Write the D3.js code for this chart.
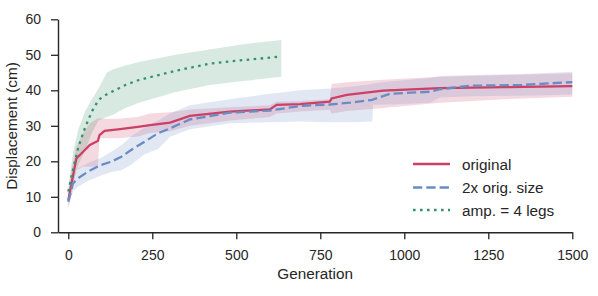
<!DOCTYPE html>
<html><head><meta charset="utf-8">
<script src="https://cdn.jsdelivr.net/npm/d3@7"></script>
<style>body{margin:0;background:#fff}svg{display:block;font-family:"Liberation Sans",Arial,sans-serif}</style>
</head><body><svg id="c" width="598" height="296"></svg>
<script>
const seriesNames = ["original", "2x orig. size", "amp. = 4 legs"];
const seriesColors = ["#cc3f66", "#6a8cc4", "#35936b"];

const genOriginal  = [0, 10, 24, 44, 64, 88, 93, 108, 148, 207, 243, 303, 362, 481, 600, 620, 690, 778, 784, 829, 937, 1106, 1300, 1500];
const meanOriginal = [9, 14, 20.8, 22.7, 24.6, 25.7, 27.4, 28.6, 29, 29.7, 30.2, 30.9, 32.8, 34, 34.6, 35.9, 36.1, 36.8, 37.7, 38.7, 39.9, 40.6, 40.9, 41.2];
const loOriginal   = [7, 11, 17.5, 18.5, 18.5, 18.5, 26.5, 26.5, 26.5, 27, 28, 28.5, 30, 31.5, 32.5, 33.5, 34, 34.5, 33.5, 34.2, 35, 36.5, 37.5, 38.2];
const hiOriginal   = [11, 18, 24, 27.9, 30.7, 32.1, 32.1, 32, 32, 32.5, 33.5, 33.8, 34.6, 35.2, 35.8, 36.8, 37, 37.5, 41.8, 42.3, 43, 43.8, 44.3, 44.8];

const gen2x  = [0, 14, 29, 59, 98, 128, 158, 187, 227, 267, 303, 362, 481, 600, 690, 778, 838, 905, 907, 957, 1076, 1106, 1200, 1350, 1500];
const mean2x = [8.6, 13.8, 15.2, 17.1, 19, 19.9, 21.3, 23.2, 25.5, 27.9, 29.3, 31.8, 33.7, 34.3, 35.6, 36, 36.5, 37.3, 37.4, 39, 39.6, 40.3, 41.3, 41.5, 42.3];
const lo2x   = [7, 11.5, 12.8, 14.5, 16, 17, 17.5, 19, 22, 23.5, 26.9, 29, 30.7, 31, 31.2, 31, 31, 31.2, 35.9, 36, 36.5, 38, 38.3, 38.5, 38.8];
const hi2x   = [10, 16, 18, 19.5, 21, 22.7, 24.5, 27, 29.5, 31.5, 33.5, 35.8, 37.5, 39, 40, 40.5, 41, 41.8, 41.9, 42.5, 43.5, 44, 44.3, 44.6, 45.2];

const genAmp  = [0, 15, 30, 50, 70, 90, 115, 130, 170, 210, 320, 420, 520, 634];
const meanAmp = [11.5, 18, 24, 29.5, 34, 37.3, 38.9, 39.6, 41.5, 42.9, 45.5, 47.5, 48.5, 49.5];
const loAmp   = [10, 14.5, 19, 23, 28, 31.5, 32.5, 33, 35, 36.5, 39.5, 41.5, 42.6, 43.8];
const hiAmp   = [13, 23, 29, 34, 37.5, 40.5, 45, 45.8, 47, 48, 50, 51.5, 53, 54.2];

const xTicks = [0, 250, 500, 750, 1000, 1250, 1500];
const yTicks = [0, 10, 20, 30, 40, 50, 60];

const svg = d3.select("#c");
const x = d3.scaleLinear().domain([-30.6, 1500]).range([58, 572.3]);
const y = d3.scaleLinear().domain([0, 60]).range([232.3, 19.3]);
const ink = "#262626";

const series = [
  {g: genOriginal, m: meanOriginal, lo: loOriginal, hi: hiOriginal, dash: null},
  {g: gen2x, m: mean2x, lo: lo2x, hi: hi2x, dash: "9.3,4"},
  {g: genAmp, m: meanAmp, lo: loAmp, hi: hiAmp, dash: "2.6,4.4"}
];

const area = d3.area().x(d => x(d.g)).y0(d => y(d.lo)).y1(d => y(d.hi));
const line = d3.line().x(d => x(d.g)).y(d => y(d.m));

series.forEach((s, i) => {
  const pts = s.g.map((g, k) => ({g, m: s.m[k], lo: s.lo[k], hi: s.hi[k]}));
  s.pts = pts;
  svg.append("path").attr("d", area(pts)).attr("fill", seriesColors[i]).attr("fill-opacity", 0.2);
});
series.forEach((s, i) => {
  svg.append("path").attr("d", line(s.pts)).attr("fill", "none")
    .attr("stroke", seriesColors[i]).attr("stroke-width", 2.3)
    .attr("stroke-dasharray", s.dash);
});

// axes
const fmt = d3.format("d");
const xAxis = d3.axisBottom(x).tickValues(xTicks).tickFormat(fmt).tickSize(7).tickPadding(11).tickSizeOuter(0);
const yAxis = d3.axisLeft(y).tickValues(yTicks).tickFormat(fmt).tickSize(7).tickPadding(10).tickSizeOuter(0);
const gx = svg.append("g").attr("transform", "translate(0,232.3)").call(xAxis);
const gy = svg.append("g").attr("transform", "translate(58,0)").call(yAxis);
[gx, gy].forEach(g => {
  g.select(".domain").attr("stroke", ink).attr("stroke-width", 1.4);
  g.selectAll(".tick line").attr("stroke", ink).attr("stroke-width", 1.3);
  g.selectAll(".tick text").attr("fill", ink).style("font-size", "14px").style("font-family", "Liberation Sans, Arial, sans-serif");
});

svg.append("text").attr("x", (x(-30.6) + x(1500)) / 2).attr("y", 279).attr("text-anchor", "middle")
  .attr("fill", ink).style("font-size", "15.3px").text("Generation");
svg.append("text").attr("transform", "translate(17,126) rotate(-90)").attr("text-anchor", "middle")
  .attr("fill", ink).style("font-size", "15.3px").text("Displacement (cm)");

// legend
const legY = [164, 187.5, 210];
seriesNames.forEach((n, i) => {
  svg.append("line").attr("x1", 413).attr("x2", 450).attr("y1", legY[i]).attr("y2", legY[i])
    .attr("stroke", seriesColors[i]).attr("stroke-width", 2.3).attr("stroke-dasharray", series[i].dash);
  svg.append("text").attr("x", 462).attr("y", legY[i] + 5.5).attr("fill", ink)
    .style("font-size", "15.3px").text(n);
});
</script></body></html>
